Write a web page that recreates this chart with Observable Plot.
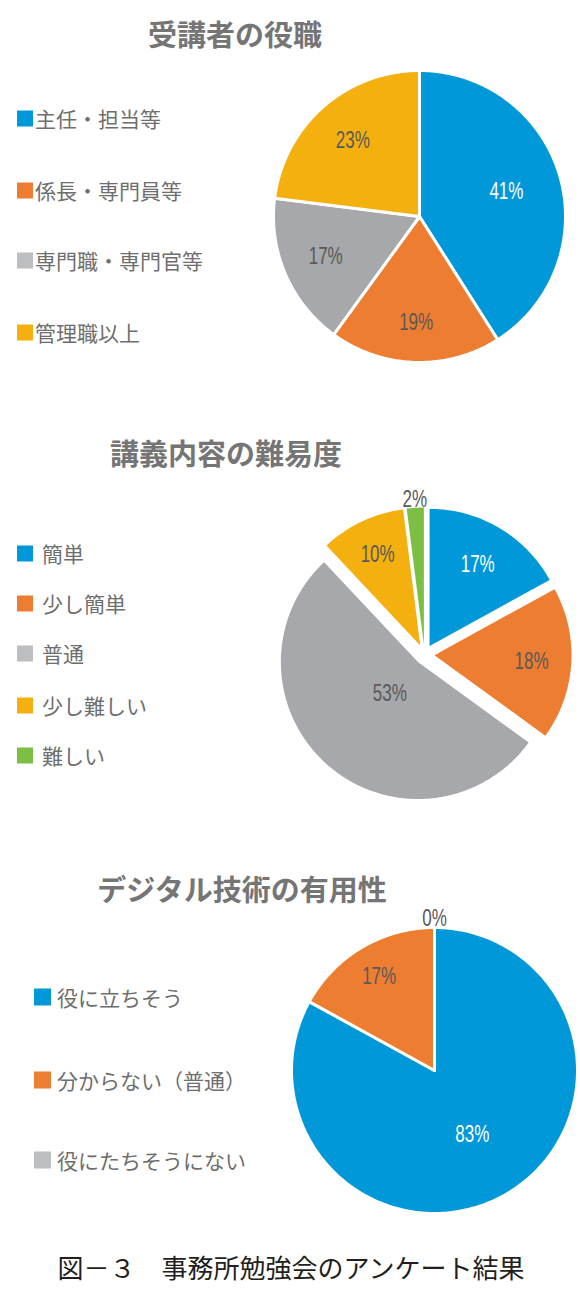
<!DOCTYPE html>
<html><head><meta charset="utf-8">
<script src="https://cdn.jsdelivr.net/npm/d3@7"></script>
<script src="https://cdn.jsdelivr.net/npm/@observablehq/plot@0.6"></script>
<style>
body{margin:0;background:#fff;}
#root{position:relative;width:580px;height:1290px;overflow:hidden;font-family:"Noto Sans CJK JP","Noto Sans",sans-serif;}
.title{position:absolute;font-weight:700;font-size:29px;color:#757575;white-space:nowrap;transform:translate(-50%,-50%);line-height:1;}
.leg{position:absolute;display:flex;align-items:center;white-space:nowrap;font-size:21px;color:#6e6e6e;line-height:1;transform:translateY(-50%);}
.sw{display:inline-block;flex:none;}
.pie{position:absolute;}
.pie svg{background:transparent;}
.caption{position:absolute;font-size:26px;color:#231f20;white-space:nowrap;transform:translate(-50%,-50%);line-height:1;font-weight:400;}
</style></head><body><div id="root"></div>
<script>
// ---- data ----
const titles = ["受講者の役職", "講義内容の難易度", "デジタル技術の有用性"];
const roleLabels = ["主任・担当等", "係長・専門員等", "専門職・専門官等", "管理職以上"];
const roleValues = [41, 19, 17, 23];
const diffLabels = ["簡単", "少し簡単", "普通", "少し難しい", "難しい"];
const diffValues = [17, 18, 53, 10, 2];
const digiLabels = ["役に立ちそう", "分からない（普通）", "役にたちそうにない"];
const digiValues = [83, 17, 0];
const captionText = "図－３　事務所勉強会のアンケート結果";

// ---- styles / layout ----
const palette = ["#0098d8", "#ed7d31", "#a6a8ab", "#f4b00f", "#7cbf42"];
const legendPalette = ["#0098d8", "#ed7d31", "#bcbec0", "#f4b00f", "#7cbf42"];

const panels = [
  {title: titles[0], tx: 235, ty: 33, labels: roleLabels, values: roleValues,
   legend: {x: 17, size: 16, gap: 2, ys: [118, 190, 260, 332]},
   pie: {cx: 419, cy: 216, R: 146, explode: 0, stroke: 3, pad: [8, 8, 8, 8], labelR: [0.62, 0.73, 0.70, 0.69]}},
  {title: titles[1], tx: 226, ty: 452, labels: diffLabels, values: diffValues,
   legend: {x: 17, size: 16, gap: 9, ys: [553, 603, 653, 705, 755]},
   pie: {cx: 424, cy: 654, R: 137, explode: 10, stroke: 0, pad: [10, 12, 30, 10], labelR: [0.69, 0.71, 0.31, 0.73, 1.06]}},
  {title: titles[2], tx: 242, ty: 888, labels: digiLabels, values: digiValues,
   legend: {x: 34, size: 17, gap: 6, ys: [997, 1080, 1160]},
   pie: {cx: 434, cy: 1069.5, R: 143, explode: 0, stroke: 3, pad: [8, 3, 22, 8], labelR: [0.52, 0.76, 1.06]}}
];

const root = document.getElementById("root");

function pieChart(p, labels, values) {
  const R = p.R;
  const ex = p.explode / R;
  const arcs = d3.pie().sort(null).value(d => d)(values);
  const slices = arcs.map((a, i) => {
    const mid = (a.startAngle + a.endAngle) / 2;
    const ox = ex * Math.sin(mid), oy = -ex * Math.cos(mid);
    const n = Math.max(2, Math.ceil((a.endAngle - a.startAngle) / (Math.PI / 180)));
    const ring = [[ox, oy]];
    for (let k = 0; k <= n; k++) {
      const t = a.startAngle + (a.endAngle - a.startAngle) * k / n;
      ring.push([ox + Math.sin(t), oy - Math.cos(t)]);
    }
    ring.push([ox, oy]);
    return {
      type: "Feature",
      properties: {label: labels[i], value: a.value, i},
      geometry: {type: "Polygon", coordinates: [ring]},
      lx: ox + p.labelR[i] * Math.sin(mid),
      ly: oy - p.labelR[i] * Math.cos(mid)
    };
  });
  const [pl, pr, pt, pb] = p.pad;
  const x0 = -1 - pl / R, x1 = 1 + pr / R, y0 = -1 - pt / R, y1 = 1 + pb / R;
  const W = 2 * R + pl + pr, H = 2 * R + pt + pb;
  const domain = {type: "MultiPoint", coordinates: [[x0, y0], [x1, y1]]};
  const font = "'Liberation Sans','Arial',sans-serif";
  const svg = Plot.plot({
    width: W, height: H, margin: 0,
    projection: {type: "identity", domain},
    color: {domain: labels, range: palette},
    marks: [
      Plot.geo(slices, {fill: d => d.properties.label, stroke: p.stroke ? "white" : "none", strokeWidth: p.stroke}),
      Plot.text(slices.filter(d => d.properties.i === 0), {x: "lx", y: "ly", text: d => d.properties.value + "%", fill: "white", fontSize: 23, fontFamily: font}),
      Plot.text(slices.filter(d => d.properties.i !== 0), {x: "lx", y: "ly", text: d => d.properties.value + "%", fill: "#595959", fontSize: 23, fontFamily: font})
    ]
  });
  // narrow the percentage labels horizontally (Arial Narrow look)
  d3.select(svg).selectAll("g[aria-label='text'] text").each(function () {
    const tr = this.getAttribute("transform") || "";
    this.setAttribute("transform", tr + " scale(0.74,1)");
  });
  const div = document.createElement("div");
  div.className = "pie";
  div.style.left = (p.cx - R - pl) + "px";
  div.style.top = (p.cy - R - pt) + "px";
  div.appendChild(svg);
  return div;
}

for (const pn of panels) {
  const t = document.createElement("div");
  t.className = "title";
  t.textContent = pn.title;
  t.style.left = pn.tx + "px";
  t.style.top = pn.ty + "px";
  root.appendChild(t);

  pn.labels.forEach((lab, i) => {
    const row = document.createElement("div");
    row.className = "leg";
    row.style.left = pn.legend.x + "px";
    row.style.top = pn.legend.ys[i] + "px";
    const sw = document.createElement("span");
    sw.className = "sw";
    sw.style.width = pn.legend.size + "px";
    sw.style.height = pn.legend.size + "px";
    sw.style.background = legendPalette[i];
    sw.style.marginRight = pn.legend.gap + "px";
    const tx = document.createElement("span");
    tx.textContent = lab;
    row.appendChild(sw);
    row.appendChild(tx);
    root.appendChild(row);
  });

  root.appendChild(pieChart(pn.pie, pn.labels, pn.values));
}

const cap = document.createElement("div");
cap.className = "caption";
cap.textContent = captionText;
cap.style.left = "291px";
cap.style.top = "1267px";
root.appendChild(cap);
</script>
</body></html>
